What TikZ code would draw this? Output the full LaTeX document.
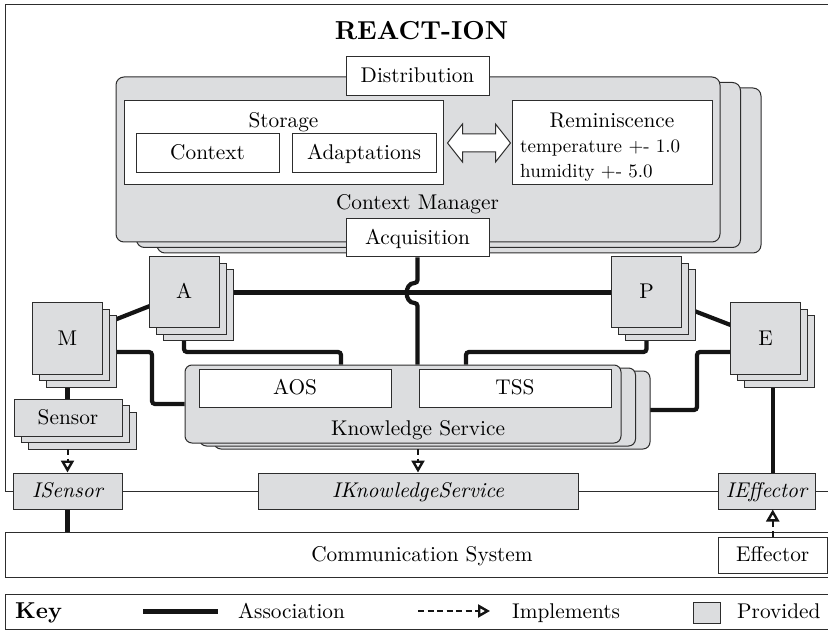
\documentclass[tikz,border=0pt]{standalone}
\usepackage{fontspec}
\setmainfont{lmroman10-regular.otf}[BoldFont=lmroman10-bold.otf, ItalicFont=lmroman10-italic.otf, BoldItalicFont=lmroman10-bolditalic.otf]
\usetikzlibrary{shadows,arrows.meta,backgrounds,calc}
\definecolor{provc}{RGB}{220,221,223}
\definecolor{linec}{RGB}{45,45,45}
\definecolor{conc}{RGB}{20,20,20}
\tikzset{
  box/.style={draw=linec, line width=1pt, inner sep=0pt, text height=17pt, text depth=4pt},
  wbox/.style={box, fill=white},
  pbox/.style={box, fill=provc},
  shd/.style 2 args={copy shadow={shadow xshift=#1, shadow yshift=#2, fill=provc, draw=linec, line width=1pt}},
  sqstack/.style={pbox, shd={14pt}{-13pt}, shd={7pt}{-6.5pt}, minimum width=70pt, minimum height=71pt},
  cmstack/.style={pbox, rounded corners=8pt, shd={41pt}{-11pt}, shd={20.5pt}{-5.5pt}},
  ksstack/.style={pbox, rounded corners=7pt, shd={29pt}{-6pt}, shd={14.5pt}{-3pt}},
  lbl/.style={inner sep=0pt, text height=17pt, text depth=4pt},
  assoc/.style={draw=conc, line width=4.2pt, rounded corners=3pt},
  impl/.style={draw=conc, line width=2pt, dash pattern=on 6pt off 3.5pt,
    -{Triangle[open, length=12pt, width=13pt, line width=2.4pt]}},
}
\begin{document}
\begin{tikzpicture}[x=1pt, y=-1pt, font=\fontsize{21.3}{25}\selectfont]
\useasboundingbox (0,0) rectangle (828,631);
% outer frame
\node[box, minimum width=835pt, minimum height=486.5pt] (frame) at (422.5,247.75) {};
\node[lbl, font=\fontsize{26}{30}\selectfont\bfseries, anchor=base] (title) at (421.5,39.5) {REACT-ION};

% Context Manager
\node[cmstack, minimum width=604pt, minimum height=165pt] (cm) at (418,159.5) {};
\node[lbl] (cmlabel) at (417.5,203.5) {Context Manager};
\node[wbox, minimum width=319pt, minimum height=84pt] (storage) at (283.5,143) {};
\node[lbl] (storagelbl) at (283.5,121.5) {Storage};
\node[wbox, minimum width=143pt, minimum height=39pt] (context) at (207.5,153.5) {Context};
\node[wbox, minimum width=144pt, minimum height=39pt] (adapt) at (364,153.5) {Adaptations};
\node[wbox, minimum width=200pt, minimum height=84pt] (remin) at (612,143) {};
\node[lbl] (reminlbl) at (612,121.5) {Reminiscence};
\node[lbl, anchor=base west, font=\fontsize{19}{23}\selectfont] (temp) at (520,152.5) {temperature +- 1.0};
\node[lbl, anchor=base west, font=\fontsize{19}{23}\selectfont] (hum) at (520,178) {humidity +- 5.0};
\node[wbox, minimum width=143pt, minimum height=39pt] (dist) at (417.5,76.5) {Distribution};
\node[wbox, minimum width=143pt, minimum height=38pt] (acq) at (417.5,238) {Acquisition};
% double arrow between Storage and Reminiscence
\draw[draw=linec, line width=1pt, fill=white]
  ($(storage.east)+(4,0)$) -- ++(15,-19) -- ++(0,10) -- ($(remin.west)+(-16,-9)$)
  -- ++(0,-10) -- ($(remin.west)+(-1,0)$) -- ++(-15,19) -- ++(0,-10)
  -- ($(storage.east)+(19,9)$) -- ++(0,10) -- cycle;

% components
\node[sqstack] (A) at (184,292.5) {A};
\node[sqstack] (P) at (646.5,292.5) {P};
\node[sqstack] (M) at (67.5,338.5) {M};
\node[sqstack] (E) at (765.5,338.5) {E};
\node[pbox, shd={14pt}{-13pt}, shd={7pt}{-6.5pt}, minimum width=108pt, minimum height=37pt] (sensor) at (68,417.5) {Sensor};

% Knowledge Service
\node[ksstack, minimum width=436pt, minimum height=78pt] (ks) at (403,404) {};
\node[lbl] (kslbl) at (418,428.5) {Knowledge Service};
\node[wbox, minimum width=192pt, minimum height=38pt] (aos) at (295,388) {AOS};
\node[wbox, minimum width=192pt, minimum height=38pt] (tss) at (515,388) {TSS};

% interfaces
\node[pbox, minimum width=109pt, minimum height=36pt] (isensor) at (67.5,491) {\itshape ISensor};
\node[pbox, minimum width=320pt, minimum height=36pt] (iks) at (418,491) {\itshape IKnowledgeService};
\node[pbox, minimum width=97pt, minimum height=36pt] (ieff) at (766.5,491) {\itshape IEffector};

% communication system
\node[wbox, minimum width=834pt, minimum height=45pt] (comm) at (422,554.5) {Communication System};
\node[wbox, minimum width=109.5pt, minimum height=36pt] (eff) at (772.75,555) {Effector};

% key
\node[wbox, minimum width=834pt, minimum height=35pt] (key) at (422,611.5) {};
\node[lbl, anchor=base west, font=\fontsize{23}{27}\selectfont\bfseries] (keylbl) at (15,618) {Key};
\coordinate (ka1) at (143,611); \coordinate (ka2) at (218,611);
\draw[assoc, line width=5pt] (ka1) -- (ka2);
\node[lbl, anchor=base west] (kassoc) at (238,618) {Association};
\coordinate (ki1) at (418,611); \coordinate (ki2) at (490,611);
\draw[impl] (ki1) -- (ki2);
\node[lbl, anchor=base west] (kimpl) at (512,618) {Implements};
\node[pbox, minimum width=27pt, minimum height=21pt] (kprov) at (706.5,612.5) {};
\node[lbl, anchor=base west] (kprovlbl) at (737,618) {Provided};

% associations (behind)
\begin{scope}[on background layer]
\draw[assoc] (M.center) -- (A.center);
\draw[assoc] (A.center) -- (P.center);
\draw[assoc] (P.center) -- (E.center);
\coordinate (h1) at (417.5,283); \coordinate (h2) at (417.5,303);
\draw[assoc] (acq.south) -- (h1) .. controls (404,283) and (404,303) .. (h2) -- (h2 |- ks.north);
\coordinate (j1) at (341,352);
\draw[assoc] (A.center) |- (j1) -- (j1 |- ks.north);
\coordinate (j2) at (152,352);
\draw[assoc] (M.center |- j2) -- (j2) |- (ks.west);
\coordinate (j3) at (466,352);
\draw[assoc] (P.center) |- (j3) -- (j3 |- ks.north);
\coordinate (j4) at (697,410); \coordinate (j5) at (697,352);
\draw[assoc] (ks.center |- j4) -- (j4) -- (j5) -- (E.center |- j5);
\draw[assoc] (M.center) -- (M.center |- sensor.center);
\draw[assoc] (eff.north |- E.center) -- (eff.north |- ieff.north);
\draw[assoc] (isensor.south) -- (isensor.south |- comm.north);
\end{scope}

% implements
\coordinate (s1) at (67.5,449);
\draw[impl] (s1) -- (isensor.north);
\coordinate (k1) at (418,449);
\draw[impl] (k1) -- (iks.north);
\draw[impl] (eff.north) -- (eff.north |- ieff.south);
\end{tikzpicture}
\end{document}
